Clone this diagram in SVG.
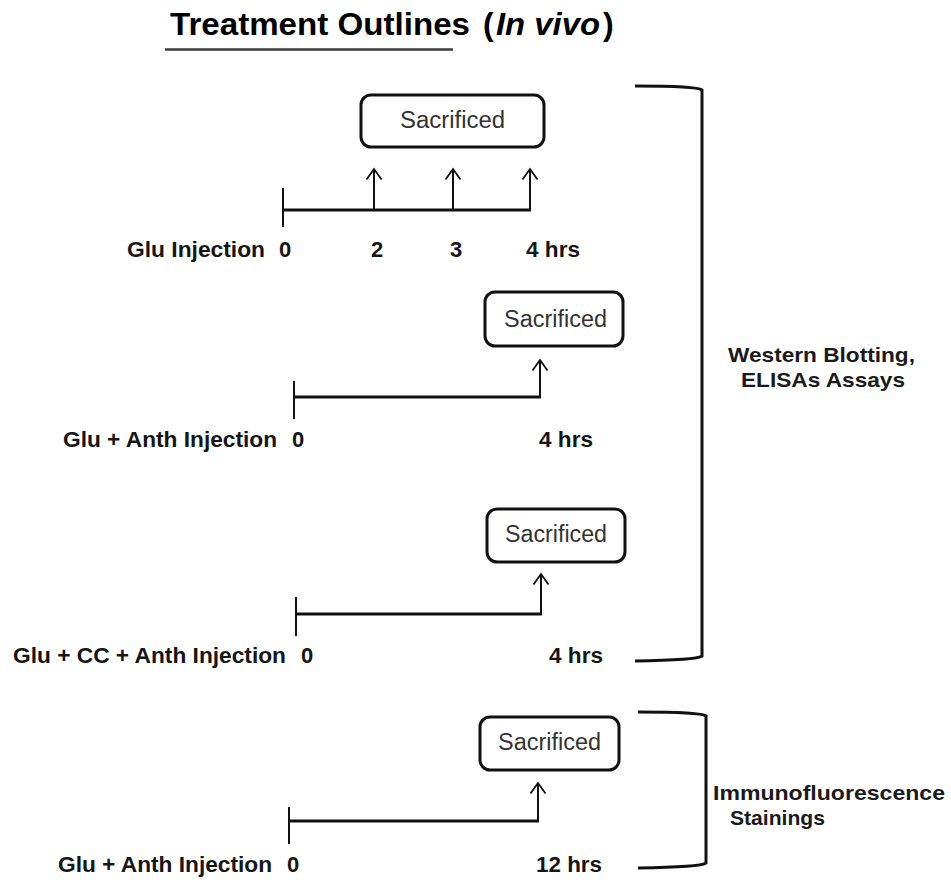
<svg xmlns="http://www.w3.org/2000/svg" width="951" height="882" viewBox="0 0 951 882">
<style>
  .lbl { font-family: "Liberation Sans", Arial, sans-serif; font-weight: bold; font-size: 22px; fill: #151515; }
  .sac { font-family: "Liberation Sans", Arial, sans-serif; font-size: 23px; fill: #333; text-anchor: middle; }
  .side { font-family: "Liberation Sans", Arial, sans-serif; font-weight: bold; font-size: 20.5px; fill: #1a1a1a; }
  .box { fill: #fff; stroke: #111; stroke-width: 3; }
  .tl { stroke: #111; stroke-width: 3; fill: none; }
  .tick { stroke: #111; stroke-width: 2; fill: none; }
  .arr { stroke: #111; stroke-width: 2; fill: none; marker-end: url(#head); }
  .brk { stroke: #111; stroke-width: 3; fill: none; }
</style>
<defs>
  <marker id="head" viewBox="-12 -10 14 20" markerWidth="14" markerHeight="20" refX="0" refY="0" orient="auto" markerUnits="userSpaceOnUse">
    <path d="M-10.5,-7.5 L0,0 L-10.5,7.5" fill="none" stroke="#111" stroke-width="1.8"/>
  </marker>
</defs>
<rect width="951" height="882" fill="#fff"/>

<g id="title">
  <text x="170" y="35" font-family="Liberation Sans, Arial, sans-serif" font-size="32" font-weight="bold" fill="#000" textLength="300" lengthAdjust="spacingAndGlyphs">Treatment Outlines</text>
  <text x="483" y="35" font-family="Liberation Sans, Arial, sans-serif" font-size="32" font-weight="bold" fill="#000">(</text>
  <text x="496" y="35" font-family="Liberation Sans, Arial, sans-serif" font-size="32" font-weight="bold" font-style="italic" fill="#000" textLength="104" lengthAdjust="spacingAndGlyphs">In vivo</text>
  <text x="603" y="35" font-family="Liberation Sans, Arial, sans-serif" font-size="32" font-weight="bold" fill="#000">)</text>
  <line x1="165" y1="49.5" x2="453" y2="49.5" stroke="#3c3c3c" stroke-width="2.5"/>
</g>

<g id="box1">
  <rect class="box" x="361" y="95" width="183" height="52" rx="10"/>
  <text class="sac" x="452.5" y="128" textLength="105" lengthAdjust="spacingAndGlyphs">Sacrificed</text>
</g>
<g id="box2">
  <rect class="box" x="485" y="292" width="138" height="54" rx="10"/>
  <text class="sac" x="555.5" y="327" textLength="103" lengthAdjust="spacingAndGlyphs">Sacrificed</text>
</g>
<g id="box3">
  <rect class="box" x="487" y="509" width="138" height="53" rx="10"/>
  <text class="sac" x="556" y="542" textLength="102" lengthAdjust="spacingAndGlyphs">Sacrificed</text>
</g>
<g id="box4">
  <rect class="box" x="480" y="717" width="139" height="53" rx="10"/>
  <text class="sac" x="549.5" y="750" textLength="103" lengthAdjust="spacingAndGlyphs">Sacrificed</text>
</g>

<g id="row1-labels">
  <text class="lbl" x="127" y="257" textLength="138" lengthAdjust="spacingAndGlyphs">Glu Injection</text>
  <text class="lbl" x="279" y="257">0</text>
  <text class="lbl" x="371" y="257">2</text>
  <text class="lbl" x="450" y="257">3</text>
  <text class="lbl" x="526" y="257" textLength="54" lengthAdjust="spacingAndGlyphs">4 hrs</text>
</g>
<g id="row2-labels">
  <text class="lbl" x="63" y="447" textLength="214" lengthAdjust="spacingAndGlyphs">Glu + Anth Injection</text>
  <text class="lbl" x="292" y="447">0</text>
  <text class="lbl" x="539" y="447" textLength="54" lengthAdjust="spacingAndGlyphs">4 hrs</text>
</g>
<g id="row3-labels">
  <text class="lbl" x="13" y="663" textLength="273" lengthAdjust="spacingAndGlyphs">Glu + CC + Anth Injection</text>
  <text class="lbl" x="301" y="663">0</text>
  <text class="lbl" x="549" y="663" textLength="54" lengthAdjust="spacingAndGlyphs">4 hrs</text>
</g>
<g id="row4-labels">
  <text class="lbl" x="58" y="872" textLength="214" lengthAdjust="spacingAndGlyphs">Glu + Anth Injection</text>
  <text class="lbl" x="287" y="872">0</text>
  <text class="lbl" x="536" y="872" textLength="66" lengthAdjust="spacingAndGlyphs">12 hrs</text>
</g>

<g id="assay-wb">
  <text class="side" x="728" y="362" textLength="187" lengthAdjust="spacingAndGlyphs">Western Blotting,</text>
  <text class="side" x="741" y="387" textLength="164" lengthAdjust="spacingAndGlyphs">ELISAs Assays</text>
</g>
<g id="assay-if">
  <text class="side" x="713" y="800" textLength="232" lengthAdjust="spacingAndGlyphs">Immunofluorescence</text>
  <text class="side" x="730" y="825" textLength="95" lengthAdjust="spacingAndGlyphs">Stainings</text>
</g>

<g id="connectors">
  <!-- row 1 -->
  <line class="tick" x1="283" y1="188" x2="283" y2="227"/>
  <line class="tl" x1="283" y1="210" x2="531" y2="210"/>
  <line class="arr" x1="374" y1="210" x2="374" y2="169"/>
  <line class="arr" x1="453" y1="210" x2="453" y2="169"/>
  <line class="arr" x1="530" y1="211" x2="530" y2="169"/>
  <!-- row 2 -->
  <line class="tick" x1="294" y1="381" x2="294" y2="419"/>
  <line class="tl" x1="294" y1="397" x2="541" y2="397"/>
  <line class="arr" x1="540" y1="398" x2="540" y2="360"/>
  <!-- row 3 -->
  <line class="tick" x1="296" y1="597" x2="296" y2="636"/>
  <line class="tl" x1="296" y1="614" x2="542" y2="614"/>
  <line class="arr" x1="541" y1="615" x2="541" y2="574"/>
  <!-- row 4 -->
  <line class="tick" x1="289" y1="807" x2="289" y2="844"/>
  <line class="tl" x1="289" y1="821" x2="539" y2="821"/>
  <line class="arr" x1="538" y1="822" x2="538" y2="783"/>
  <!-- brackets -->
  <path class="brk" d="M635,86 Q697,86 702,90 L702,656 Q697,660 635,661"/>
  <path class="brk" d="M638,712 Q701,712 706,716 L706,863 Q701,867 638,868"/>
</g>
</svg>
